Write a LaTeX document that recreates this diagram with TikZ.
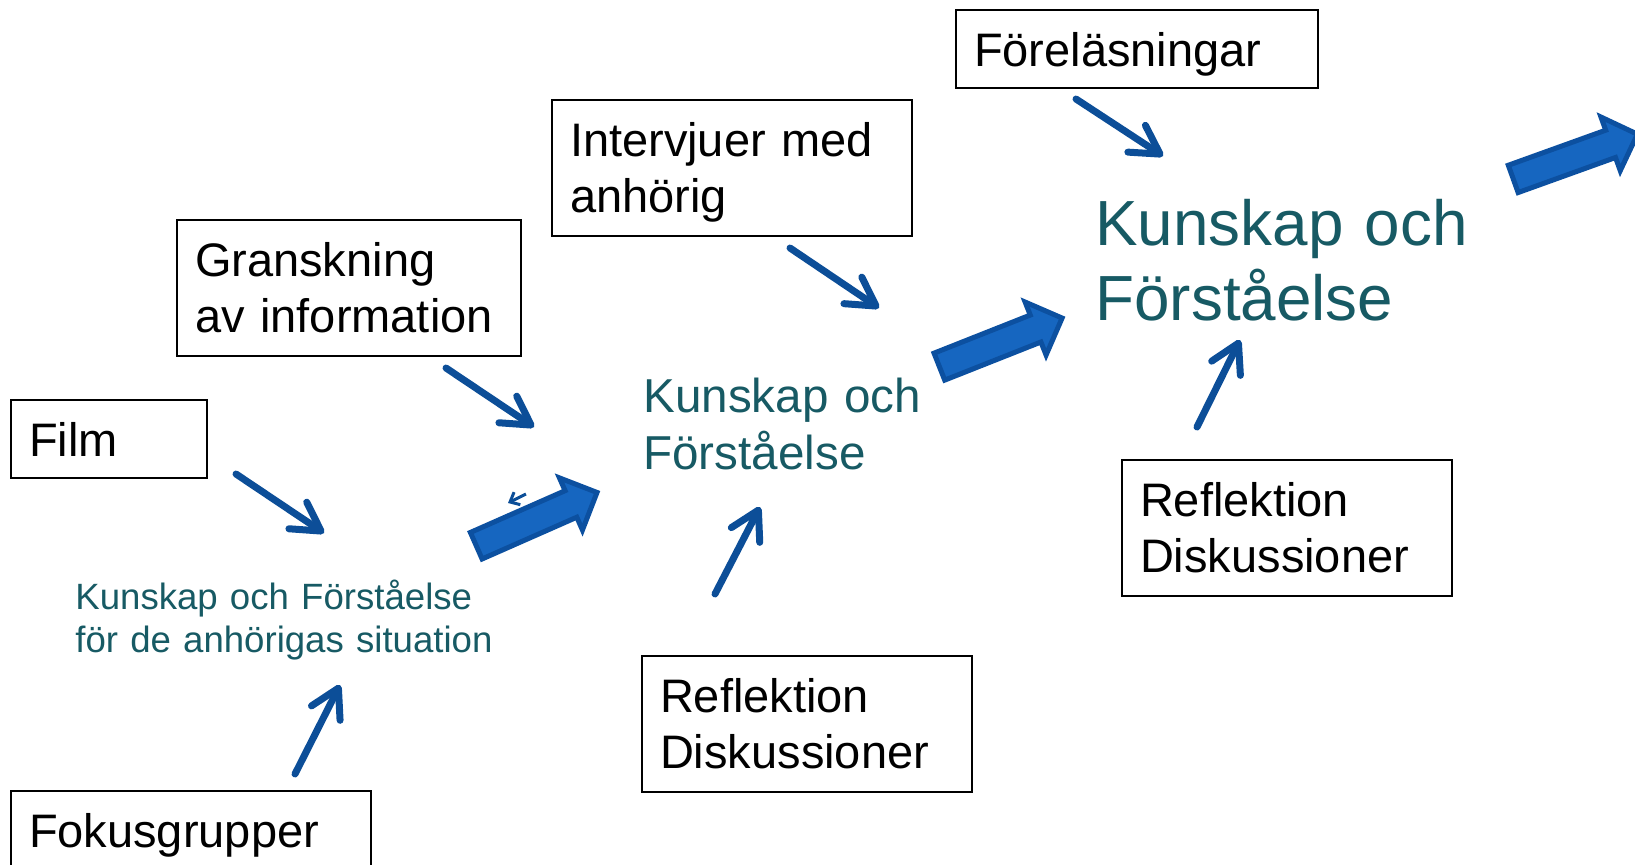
\documentclass[tikz,border=0pt]{standalone}
\usepackage{fontspec}
\setmainfont{Liberation Sans}
\usetikzlibrary{arrows.meta,shapes.arrows}
\definecolor{kfteal}{RGB}{23,90,100}
\definecolor{pilblue}{RGB}{12,78,152}
\definecolor{blockfill}{RGB}{22,102,192}
\definecolor{blockline}{RGB}{12,80,160}
\begin{document}
\begin{tikzpicture}[x=0.5pt,y=-0.5pt,
	ruta/.style={draw=black,line width=1pt,anchor=north west,inner xsep=9pt,inner ysep=0pt,align=left,font=\fontsize{23.5}{28}\selectfont,text height=28pt},
	ruta1/.style={ruta,text depth=11pt},
	ruta2/.style={ruta,text depth=40pt},
	kunskap/.style={text=kfteal,anchor=base west,inner sep=0pt,align=left},
	pil/.style={draw=pilblue,line width=3.5pt,line cap=round,-{Straight Barb[length=14pt,width=16pt,round]}},
	blockpil/.style={single arrow,draw=blockline,fill=blockfill,line width=2.5pt,minimum height=66pt,inner sep=6pt,single arrow head extend=7pt}]
	\useasboundingbox (0,0) rectangle (1635,864);
	\node[ruta1,text width=163pt] (forelas) at (955,9) {Föreläsningar};
	\node[ruta2,text width=162pt] (intervju) at (551,99) {Intervjuer med\\anhörig};
	\node[ruta2,text width=154pt] (gransk) at (176,219) {Granskning\\av information};
	\node[ruta1,text width=80pt] (film) at (10,399) {Film};
	\node[ruta1,text width=162pt] (fokus) at (10,790) {Fokusgrupper};
	\node[ruta2,text width=147pt] (refl1) at (641,655) {Reflektion\\Diskussioner};
	\node[ruta2,text width=147pt] (refl2) at (1121,459) {Reflektion\\Diskussioner};
	\node[kunskap,text width=230pt,font=\fontsize{18.3}{21.5}\selectfont] (kf1) at (75,609) {Kunskap och Förståelse\\för de anhörigas situation};
	\node[kunskap,text width=150pt,font=\fontsize{23.8}{28.5}\selectfont] (kf2) at (643,412) {Kunskap och\\Förståelse};
	\node[kunskap,text width=200pt,font=\fontsize{31.9}{37.5}\selectfont] (kf3) at (1095,245) {Kunskap och\\Förståelse};
	\node[blockpil,rotate=23.8] (stor1) at (530,522) {};
	\node[blockpil,rotate=21.6] (stor2) at (994,345) {};
	\node[blockpil,rotate=19.8] (stor3) at (1568.5,159) {};
	\coordinate (forelas-ut) at (1076,99);
	\coordinate (kf3-in) at (1163,156);
	\coordinate (refl2-ut) at (1197,427);
	\coordinate (kf3-under) at (1240,340);
	\coordinate (intervju-ut) at (790,248);
	\coordinate (kf2-in) at (879,308);
	\coordinate (refl1-ut) at (715,594);
	\coordinate (kf2-under) at (760,507);
	\coordinate (gransk-ut) at (446,368);
	\coordinate (kf1-in1) at (534,427);
	\coordinate (film-ut) at (236,474);
	\coordinate (kf1-in2) at (324,533);
	\coordinate (fokus-ut) at (295,774);
	\coordinate (kf1-under) at (340,685);
	\coordinate (liten-a) at (526,494);
	\coordinate (liten-b) at (508,503);
	\draw[pil] (forelas-ut) -- (kf3-in);
	\draw[pil] (refl2-ut) -- (kf3-under);
	\draw[pil] (intervju-ut) -- (kf2-in);
	\draw[pil] (refl1-ut) -- (kf2-under);
	\draw[pil] (gransk-ut) -- (kf1-in1);
	\draw[pil] (film-ut) -- (kf1-in2);
	\draw[pil] (fokus-ut) -- (kf1-under);
	\draw[draw=pilblue,line width=1.5pt,-{Straight Barb[length=4pt,width=7pt]}] (liten-a) -- (liten-b);
\end{tikzpicture}
\end{document}
